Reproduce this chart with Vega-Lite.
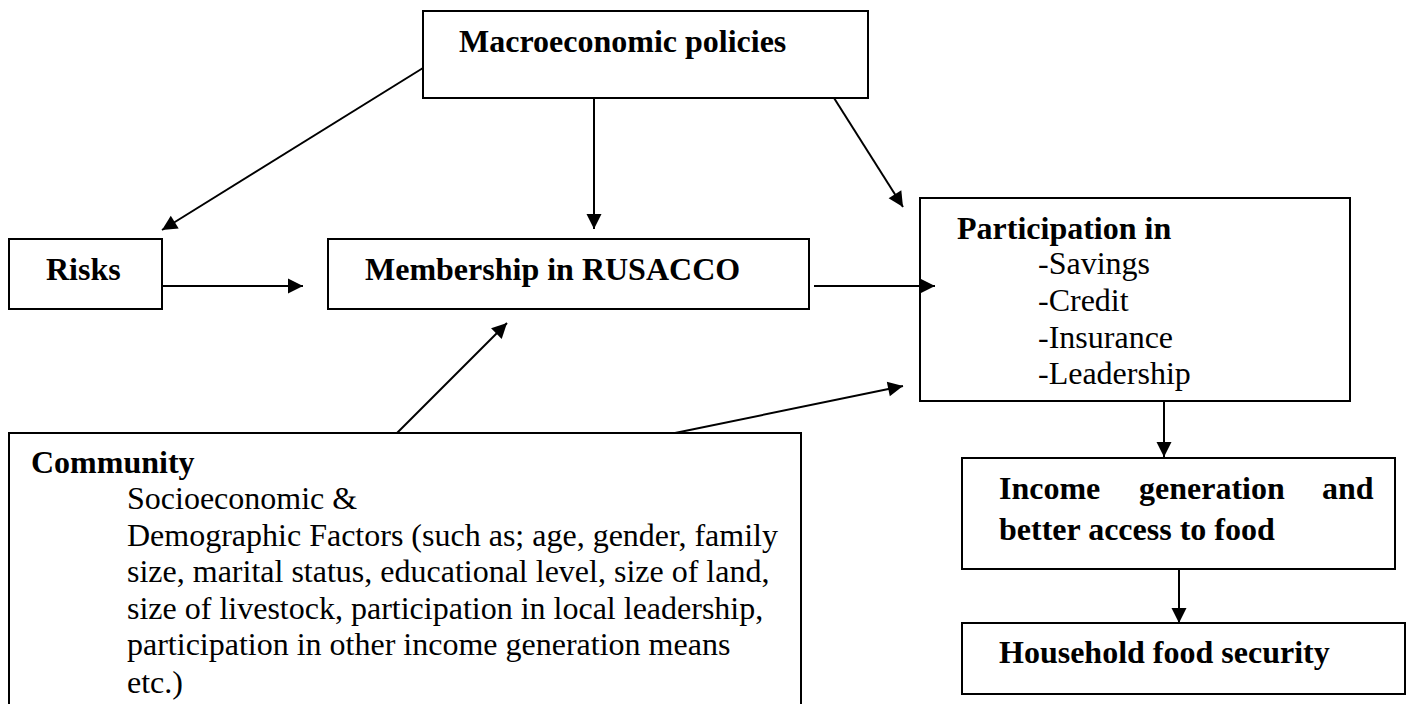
{
  "$schema": "https://vega.github.io/schema/vega-lite/v6.json",
  "width": 1411,
  "height": 704,
  "padding": 0,
  "autosize": {"type": "none"},
  "background": "white",
  "config": {"view": {"stroke": null}},
  "datasets": {
    "boxes": [
      {"box": "Macroeconomic policies", "left": 423, "top": 11, "right": 868, "bottom": 98},
      {"box": "Risks", "left": 9, "top": 239, "right": 162, "bottom": 309},
      {"box": "Membership in RUSACCO", "left": 328, "top": 239, "right": 809, "bottom": 309},
      {"box": "Participation in", "left": 920, "top": 198, "right": 1350, "bottom": 401},
      {"box": "Community", "left": 9, "top": 433, "right": 801, "bottom": 720},
      {"box": "Income generation", "left": 962, "top": 458, "right": 1395, "bottom": 569},
      {"box": "Household food security", "left": 962, "top": 623, "right": 1405, "bottom": 694}
    ],
    "links": [
      {"link": "Macro-Risks", "x": 423, "y": 68, "x2": 162, "y2": 230},
      {"link": "Macro-Membership", "x": 594, "y": 98, "x2": 594, "y2": 229},
      {"link": "Macro-Participation", "x": 834, "y": 98, "x2": 903, "y2": 207},
      {"link": "Risks-Membership", "x": 162, "y": 286, "x2": 303, "y2": 286},
      {"link": "Membership-Participation", "x": 814, "y": 286, "x2": 935, "y2": 286},
      {"link": "Community-Membership", "x": 397, "y": 433, "x2": 507, "y2": 323},
      {"link": "Community-Participation", "x": 675, "y": 433, "x2": 903, "y2": 386},
      {"link": "Participation-Income", "x": 1164, "y": 401, "x2": 1164, "y2": 457},
      {"link": "Income-Household", "x": 1179, "y": 569, "x2": 1179, "y2": 623}
    ],
    "headings": [
      {"label": "Macroeconomic policies", "x": 459, "y": 52},
      {"label": "Risks", "x": 46, "y": 280},
      {"label": "Membership in RUSACCO", "x": 365, "y": 280},
      {"label": "Participation in", "x": 957, "y": 239},
      {"label": "Community", "x": 31, "y": 473},
      {"label": "Income", "x": 999, "y": 499},
      {"label": "generation", "x": 1139, "y": 499},
      {"label": "and", "x": 1322, "y": 499},
      {"label": "better access to food", "x": 999, "y": 540},
      {"label": "Household food security", "x": 999, "y": 663}
    ],
    "body": [
      {"label": "-Savings", "x": 1038, "y": 274},
      {"label": "-Credit", "x": 1038, "y": 311},
      {"label": "-Insurance", "x": 1038, "y": 348},
      {"label": "-Leadership", "x": 1038, "y": 384},
      {"label": "Socioeconomic &", "x": 127, "y": 509},
      {"label": "Demographic Factors (such as; age, gender, family", "x": 127, "y": 546},
      {"label": "size, marital status, educational level, size of land,", "x": 127, "y": 582},
      {"label": "size of livestock, participation in local leadership,", "x": 127, "y": 619},
      {"label": "participation in other income generation means", "x": 127, "y": 655},
      {"label": "etc.)", "x": 127, "y": 693}
    ]
  },
  "layer": [
    {
      "data": {"name": "boxes"},
      "mark": {"type": "rect", "fill": "white", "stroke": "black", "strokeWidth": 2, "clip": true},
      "encoding": {
        "x": {"field": "left", "type": "quantitative", "scale": {"domain": [0, 1411], "nice": false, "zero": false}, "axis": null},
        "x2": {"field": "right"},
        "y": {"field": "top", "type": "quantitative", "scale": {"domain": [0, 704], "nice": false, "zero": false, "reverse": true}, "axis": null},
        "y2": {"field": "bottom"}
      }
    },
    {
      "data": {"name": "links"},
      "mark": {"type": "rule", "stroke": "black", "strokeWidth": 2, "strokeCap": "butt"},
      "encoding": {
        "x": {"field": "x", "type": "quantitative", "scale": {"domain": [0, 1411], "nice": false, "zero": false}, "axis": null},
        "x2": {"field": "x2"},
        "y": {"field": "y", "type": "quantitative", "scale": {"domain": [0, 704], "nice": false, "zero": false, "reverse": true}, "axis": null},
        "y2": {"field": "y2"}
      }
    },
    {
      "data": {"name": "links"},
      "transform": [
        {"calculate": "atan2(datum.x2 - datum.x, datum.y - datum.y2) * 180 / PI", "as": "heading"}
      ],
      "mark": {"type": "point", "shape": "M0,0L-1.5,3L1.5,3Z", "filled": true, "fill": "black", "strokeWidth": 0, "size": 100, "opacity": 1},
      "encoding": {
        "x": {"field": "x2", "type": "quantitative", "scale": {"domain": [0, 1411], "nice": false, "zero": false}, "axis": null},
        "y": {"field": "y2", "type": "quantitative", "scale": {"domain": [0, 704], "nice": false, "zero": false, "reverse": true}, "axis": null},
        "angle": {"field": "heading", "type": "quantitative", "scale": null}
      }
    },
    {
      "data": {"name": "headings"},
      "mark": {"type": "text", "align": "left", "baseline": "alphabetic", "font": "Liberation Serif", "fontSize": 32, "fontWeight": "bold", "color": "black"},
      "encoding": {
        "x": {"field": "x", "type": "quantitative", "scale": {"domain": [0, 1411], "nice": false, "zero": false}, "axis": null},
        "y": {"field": "y", "type": "quantitative", "scale": {"domain": [0, 704], "nice": false, "zero": false, "reverse": true}, "axis": null},
        "text": {"field": "label"}
      }
    },
    {
      "data": {"name": "body"},
      "mark": {"type": "text", "align": "left", "baseline": "alphabetic", "font": "Liberation Serif", "fontSize": 32, "color": "black"},
      "encoding": {
        "x": {"field": "x", "type": "quantitative", "scale": {"domain": [0, 1411], "nice": false, "zero": false}, "axis": null},
        "y": {"field": "y", "type": "quantitative", "scale": {"domain": [0, 704], "nice": false, "zero": false, "reverse": true}, "axis": null},
        "text": {"field": "label"}
      }
    }
  ]
}
